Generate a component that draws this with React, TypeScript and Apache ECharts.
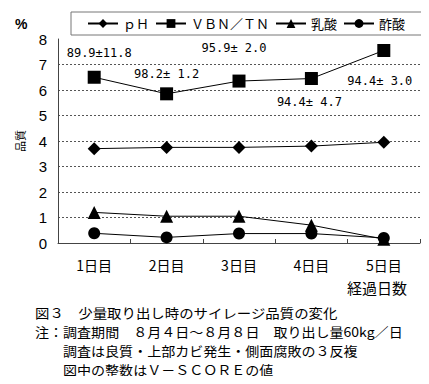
import React, { useEffect, useRef } from "react";
import * as echarts from "echarts";

const categories = ["1日目", "2日目", "3日目", "4日目", "5日目"];
const seriesNames = ["ｐＨ", "ＶＢＮ／ＴＮ", "乳酸", "酢酸"];
const phValues = [3.7, 3.75, 3.75, 3.8, 3.95];
const vbnValues = [6.5, 5.85, 6.35, 6.45, 7.55];
const lacticValues = [1.2, 1.05, 1.05, 0.7, 0.15];
const aceticValues = [0.38, 0.22, 0.37, 0.37, 0.2];
const vscoreLabels = ["89.9±11.8", "98.2± 1.2", "95.9± 2.0", "94.4± 4.7", "94.4± 3.0"];
const yTicks = [0, 1, 2, 3, 4, 5, 6, 7, 8];

const captionLines = [
  "図３　少量取り出し時のサイレージ品質の変化",
  "注：調査期間　８月４日～８月８日　取り出し量60kg／日",
  "調査は良質・上部カビ発生・側面腐敗の３反複",
  "図中の整数はＶ－ＳＣＯＲＥの値",
];

// layout only
const labelOffsets = [
  [5, -24],
  [0, -20],
  [-5, -33],
  [-2, 23],
  [-4, 31],
];
const captionPos = [
  [35, 312],
  [35, 331],
  [63, 350],
  [63, 369],
];
const captionSizes = [13, 13, 13, 13];
const captionScale = [1.11, 1.08, 1.08, 1.08];

const JP = "'Noto Sans CJK JP', sans-serif";

export default function App() {
  const ref = useRef<HTMLDivElement>(null);
  useEffect(() => {
    if (!ref.current) return;
    const chart = echarts.init(ref.current, null, { renderer: "svg" });
    const symbols = ["diamond", "rect", "triangle", "circle"];
    const sizes = [13, 13, 13, 12];
    const values = [phValues, vbnValues, lacticValues, aceticValues];
    const series = values.map((vals, si) => ({
      name: seriesNames[si],
      type: "line",
      symbol: symbols[si],
      symbolSize: sizes[si],
      itemStyle: { color: "#000" },
      lineStyle: { color: "#000", width: 1 },
      z: 10 - si,
      data:
        si === 1
          ? vals.map((v, i) => ({
              value: v,
              label: {
                show: true,
                position: "inside",
                formatter: vscoreLabels[i],
                offset: labelOffsets[i],
                color: "#000",
                fontSize: 12,
                fontFamily: "'DejaVu Sans Mono', monospace",
              },
            }))
          : vals,
    }));
    chart.setOption({
      animation: false,
      backgroundColor: "#fff",
      grid: { left: 58, right: 9, top: 39, bottom: 141 },
      legend: {
        data: seriesNames,
        left: 71,
        top: 12,
        borderColor: "#777",
        borderWidth: 1,
        borderRadius: 0,
        padding: [5, 19, 5, 16],
        itemGap: 6,
        itemWidth: 30,
        itemHeight: 11,
        textStyle: { color: "#000", fontSize: 13, fontFamily: JP },
      },
      xAxis: {
        type: "category",
        data: categories,
        boundaryGap: true,
        axisLine: { lineStyle: { color: "#444", width: 1 } },
        axisTick: { show: true, inside: true, length: 4, lineStyle: { color: "#444" } },
        axisLabel: { color: "#000", fontSize: 14, fontFamily: JP, margin: 15 },
        splitLine: { show: false },
      },
      yAxis: {
        type: "value",
        min: yTicks[0],
        max: yTicks[yTicks.length - 1],
        interval: 1,
        name: "品質",
        nameLocation: "middle",
        nameRotate: 90,
        nameGap: 33,
        nameTextStyle: { color: "#000", fontSize: 11, fontFamily: JP },
        axisLine: { show: true, lineStyle: { color: "#444", width: 1 } },
        axisTick: { show: false },
        axisLabel: {
          color: "#000",
          fontSize: 15,
          fontFamily: "'Liberation Sans', Arial, sans-serif",
          margin: 11,
        },
        splitLine: {
          show: true,
          showMaxLine: false,
          lineStyle: { color: "#555", type: [2, 2], width: 1 },
        },
      },
      graphic: [
        {
          type: "text",
          x: 15,
          y: 24,
          style: {
            text: "%",
            fill: "#000",
            font: "bold 14px 'Liberation Sans', Arial, sans-serif",
            verticalAlign: "middle",
          },
        },
        {
          type: "text",
          x: 347,
          y: 287,
          style: {
            text: "経過日数",
            fill: "#000",
            font: `15px ${JP}`,
            verticalAlign: "middle",
          },
        },
        ...captionLines.map((t, i) => ({
          type: "text",
          x: captionPos[i][0],
          y: captionPos[i][1],
          scaleX: captionScale[i],
          style: {
            text: t,
            fill: "#000",
            font: `${captionSizes[i]}px ${JP}`,
            verticalAlign: "middle",
          },
        })),
      ],
      series,
    });
    return () => chart.dispose();
  }, []);
  return <div ref={ref} style={{ width: 429, height: 384, margin: -8 }} />;
}
